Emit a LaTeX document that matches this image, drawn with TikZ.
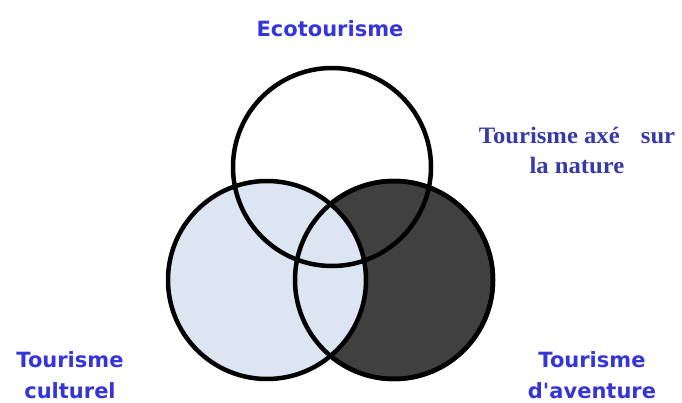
\documentclass[tikz,border=0pt]{standalone}
\usepackage{fontspec}
\usepackage{xcolor}
\usepackage{tikz}
\newfontfamily\vennsans{DejaVu Sans}
\newfontfamily\vennserif[FakeStretch=1.05]{Liberation Serif}
\definecolor{sansblue}{HTML}{3636D8}
\definecolor{serifblue}{HTML}{3A3AA6}
\definecolor{culturefill}{HTML}{DCE6F2}
\definecolor{adventurefill}{HTML}{404040}

\begin{document}
\begin{tikzpicture}[x=1pt, y=-1pt,
        ring/.style={circle, draw=black, line width=4.5pt, minimum size=198pt, inner sep=0pt},
        sanslabel/.style={font=\vennsans\bfseries\fontsize{21}{31}\selectfont, text=sansblue, align=center, inner sep=0pt},
        seriflabel/.style={font=\vennserif\bfseries\fontsize{23.5}{30}\selectfont, text=serifblue, align=center, inner sep=0pt}]
        \useasboundingbox[fill=white] (0,0) rectangle (682,403);
        \node[ring, fill=adventurefill] (aventure) at (394,280) {};
        \node[ring, fill=culturefill] (culture) at (267,280) {};
        \node[ring] (nature) at (332,167) {};
        \draw[line width=4.5pt] (aventure) circle (99);
        
        \node[sanslabel, anchor=base] (eco) at (330,37) {Ecotourisme};
        \node[seriflabel] (naturelbl) at (577,150) {Tourisme axé\hspace{0.9em}sur\\la nature};
        \node[sanslabel] (culturelbl) at (70,375) {Tourisme\\culturel};
        \node[sanslabel] (aventurelbl) at (592,375) {Tourisme\\d'aventure};
    \end{tikzpicture}
\end{document}
